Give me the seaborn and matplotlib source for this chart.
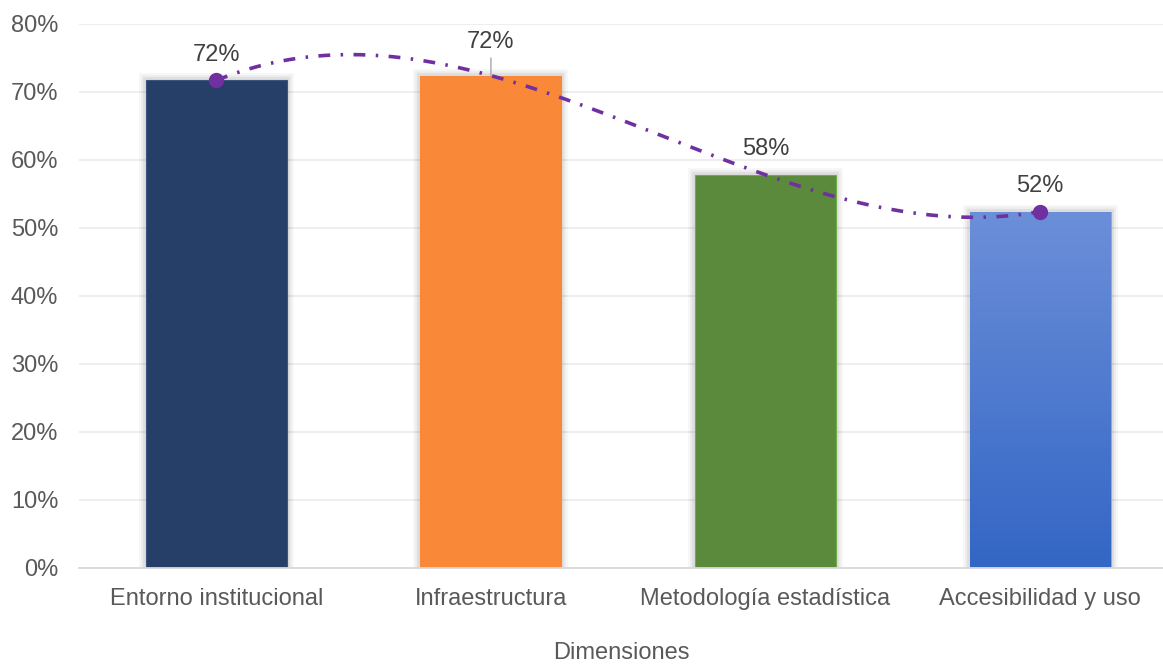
import numpy as np
import pandas as pd
import matplotlib
matplotlib.use("Agg")
import matplotlib.pyplot as plt
import seaborn as sns
from matplotlib import patheffects as pe
from matplotlib.colors import LinearSegmentedColormap
from matplotlib.ticker import PercentFormatter

# Scores by dimension
dimensiones = ["Entorno institucional", "Infraestructura",
               "Metodología estadística", "Accesibilidad y uso"]
valores = [0.717, 0.724, 0.578, 0.524]
etiquetas = ["72%", "72%", "58%", "52%"]
y_ticks = [0.0, 0.1, 0.2, 0.3, 0.4, 0.5, 0.6, 0.7, 0.8]

colores = ["#263F69", "#F98839", "#5B8A3C", "#4A7AD5"]
bordes = ["#3A5582", "#F98839", "#70AD47", "#8DA9E0"]

sns.set_theme(style="white")
plt.rcParams["font.family"] = ["Liberation Sans", "DejaVu Sans"]
plt.rcParams["lines.scale_dashes"] = False

W, H = 1163, 665
fig = plt.figure(figsize=(W / 100, H / 100), dpi=100)
ax = fig.add_axes([79 / W, 97.5 / H, (W - 79) / W, 543.5 / H])

df = pd.DataFrame({"Dimension": dimensiones, "Valor": valores})
sns.barplot(data=df, x="Dimension", y="Valor", hue="Dimension",
            palette=colores, saturation=1, width=0.513, legend=False,
            ax=ax, zorder=3)

# soft glow around each bar
sombra = [pe.Stroke(linewidth=10, foreground="black", alpha=0.03),
          pe.Stroke(linewidth=7, foreground="black", alpha=0.045),
          pe.Stroke(linewidth=4, foreground="black", alpha=0.06),
          pe.Normal()]
for p, bc in zip(ax.patches, bordes):
    p.set_edgecolor(bc)
    p.set_linewidth(0.8)
    p.set_path_effects(sombra)

# vertical gradient fill on the last bar
ult = ax.patches[3]
x0, w, h = ult.get_x(), ult.get_width(), ult.get_height()
grad = LinearSegmentedColormap.from_list("azul", ["#3366C5", "#6C8FD9"])
img = ax.imshow(np.linspace(0, 1, 256).reshape(-1, 1), cmap=grad,
                origin="lower", aspect="auto",
                extent=[x0, x0 + w, 0, h], zorder=3.5)
img.set_clip_path(ult)

# polynomial trendline (order 3) through the bar values
xi = np.arange(len(valores))
coef = np.polyfit(xi, valores, 3)
xs = np.linspace(0, len(valores) - 1, 400)
ax.plot(xs, np.polyval(coef, xs), color="#7030A0", lw=2.6,
        linestyle=(0, (8.5, 7.5, 1.8, 7.5)), zorder=5)
ax.plot([xi[0], xi[-1]], [valores[0], valores[-1]], "o", color="#7030A0",
        ms=10, zorder=6)

# value labels
for i, (v, t) in enumerate(zip(valores, etiquetas)):
    if i == 1:
        ax.annotate(t, xy=(i, v), xytext=(0, 24), textcoords="offset points",
                    ha="center", va="center", fontsize=17, color="#404040",
                    zorder=7,
                    arrowprops=dict(arrowstyle="-", color="#A6A6A6", lw=1,
                                    shrinkA=1, shrinkB=0))
    else:
        ax.annotate(t, xy=(i, v), xytext=(0, 18.5), textcoords="offset points",
                    ha="center", va="center", fontsize=17, color="#404040",
                    zorder=7)

ax.set_xlim(-0.5, (W - 216) / 274.7)
ax.set_ylim(0, 0.8)
ax.set_yticks(y_ticks)
ax.yaxis.set_major_formatter(PercentFormatter(1.0, decimals=0))
ax.grid(axis="y", color="#EBEBEB", lw=1.2, zorder=0)
ax.set_axisbelow(True)
for s in ["top", "right", "left"]:
    ax.spines[s].set_visible(False)
ax.spines["bottom"].set_color("#D9D9D9")
ax.spines["bottom"].set_linewidth(1.3)
ax.spines["bottom"].set_zorder(4)

ax.tick_params(axis="y", length=0, pad=15, labelsize=17, labelcolor="#595959")
ax.tick_params(axis="x", length=0, pad=14.5, labelsize=17, labelcolor="#595959")
ax.set_ylabel("")
ax.set_xlabel("Dimensiones", fontsize=17, color="#595959", labelpad=23.5)

fig.savefig("out.png", dpi=100)
